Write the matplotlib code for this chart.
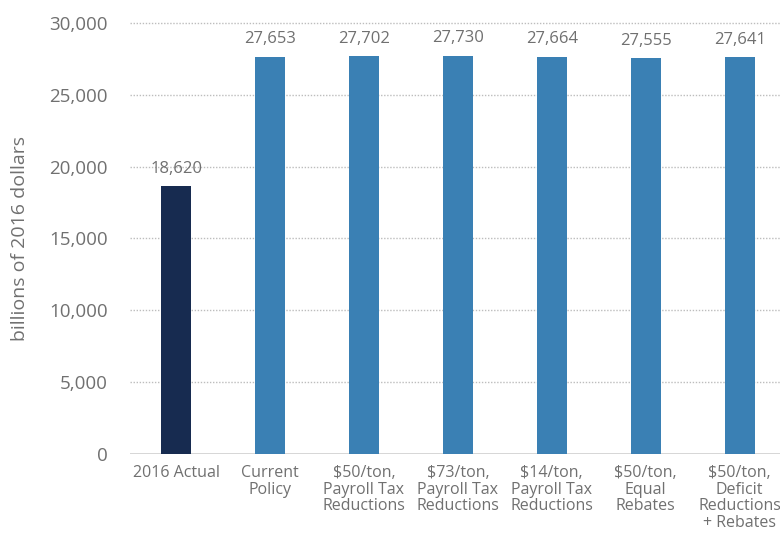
import matplotlib.pyplot as plt

categories = ['2016 Actual', 'Current\nPolicy', '$50/ton,\nPayroll Tax\nReductions',
              '$73/ton,\nPayroll Tax\nReductions', '$14/ton,\nPayroll Tax\nReductions',
              '$50/ton,\nEqual\nRebates', '$50/ton,\nDeficit\nReductions\n+ Rebates']
values = [18620, 27653, 27702, 27730, 27664, 27555, 27641]
yticks = [0, 5000, 10000, 15000, 20000, 25000, 30000]

plt.rcParams['font.family'] = ['Open Sans', 'DejaVu Sans']
txt = '#707070'

fig = plt.figure(figsize=(7.8, 5.4), dpi=100)
ax = fig.add_axes([0.1667, 0.1593, 0.8333, 0.7981])

colors = ['#172b50'] + ['#3a80b4'] * (len(values) - 1)
x = list(range(len(values)))
ax.bar(x, values, width=0.32, color=colors, zorder=3)

for xi, v in zip(x, values):
    ax.text(xi, v + 650, f'{v:,}', ha='center', va='bottom', fontsize=12,
            color=txt, zorder=4)

ax.set_xlim(-0.49, 6.43)
ax.set_ylim(0, 30000)
ax.set_yticks(yticks)
ax.set_yticklabels([f'{t:,}' for t in yticks], fontsize=13.5, color=txt)
ax.set_xticks(x)
ax.set_xticklabels(categories, fontsize=11.5, color=txt, linespacing=1.05)
ax.tick_params(length=0)
ax.tick_params(axis='y', pad=16)
ax.tick_params(axis='x', pad=8)

for t in yticks[1:]:
    ax.axhline(t, color='#bdbdbd', linestyle=(0, (1, 1.2)), linewidth=1, zorder=1,
               clip_on=False)
ax.axhline(0, color='#cfcfcf', linewidth=1.2, zorder=2)

for s in ax.spines.values():
    s.set_visible(False)

ax.set_ylabel('billions of 2016 dollars', fontsize=14, color=txt, va='center')
ax.yaxis.set_label_coords(-0.169, 0.5)

fig.savefig('out.png', dpi=100)
